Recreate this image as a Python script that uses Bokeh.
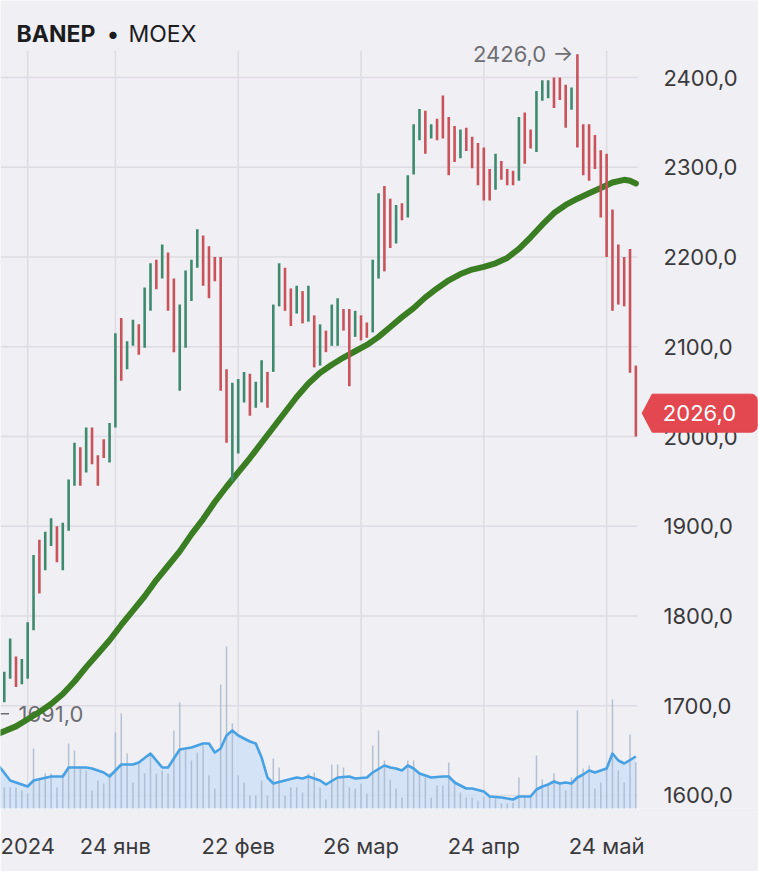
import numpy as np
from bokeh.plotting import figure
from bokeh.models import Range1d, FixedTicker
from bokeh.core.properties import value
from bokeh.embed import file_html
from bokeh.resources import INLINE

# ---------------- data ----------------
ticker_name = "BANEP"
exchange_name = "MOEX"

candle_idx = list(range(-5, 105))  # trading-day index, 0 = 3 Jan 2024
highs = [1747, 1738, 1775, 1755, 1752, 1793, 1868, 1885, 1894, 1909,
         1900, 1904, 1952, 1993, 1988, 2010, 2010, 1979, 1997, 2015,
         2115, 2132, 2106, 2130, 2125, 2166, 2193, 2197, 2214, 2205,
         2176, 2147, 2185, 2197, 2231, 2224, 2212, 2200, 2200, 2075,
         2060, 2064, 2072, 2070, 2061, 2085, 2072, 2147, 2193, 2188,
         2165, 2168, 2162, 2168, 2135, 2125, 2118, 2147, 2154, 2142,
         2142, 2140, 2135, 2127, 2197, 2271, 2279, 2265, 2258, 2260,
         2291, 2348, 2365, 2363, 2348, 2354, 2380, 2356, 2346, 2342,
         2344, 2334, 2327, 2322, 2298, 2315, 2307, 2298, 2296, 2356,
         2361, 2342, 2385, 2397, 2397, 2400, 2400, 2392, 2389, 2426,
         2348, 2348, 2336, 2319, 2315, 2253, 2214, 2200, 2209, 2079]
lows = [1715, 1704, 1730, 1721, 1724, 1730, 1784, 1825, 1851, 1878,
        1860, 1851, 1895, 1945, 1945, 1960, 1969, 1945, 1976, 1971,
        2010, 2062, 2075, 2101, 2091, 2099, 2140, 2164, 2176, 2140,
        2094, 2051, 2099, 2151, 2188, 2168, 2154, 2173, 2051, 1993,
        1950, 1981, 2038, 2023, 2032, 2038, 2032, 2072, 2145, 2140,
        2123, 2137, 2126, 2128, 2077, 2079, 2094, 2101, 2101, 2118,
        2056, 2111, 2107, 2110, 2116, 2176, 2184, 2210, 2215, 2241,
        2244, 2292, 2330, 2315, 2332, 2330, 2332, 2291, 2306, 2310,
        2318, 2299, 2280, 2263, 2263, 2275, 2286, 2280, 2280, 2285,
        2304, 2321, 2317, 2374, 2377, 2366, 2375, 2344, 2364, 2322,
        2291, 2285, 2298, 2244, 2200, 2140, 2147, 2145, 2071, 2000]
direction = [-1, 1, 1, -1, 1, 1, 1, -1, 1, 1,
             -1, 1, 1, 1, -1, 1, -1, -1, -1, 1,
             1, -1, 1, 1, -1, 1, 1, -1, 1, -1,
             -1, 1, 1, 1, 1, -1, -1, -1, -1, -1,
             1, 1, 1, -1, 1, 1, -1, 1, 1, -1,
             -1, 1, -1, 1, -1, 1, -1, 1, 1, -1,
             -1, 1, -1, -1, 1, 1, -1, -1, 1, -1,
             1, 1, 1, -1, 1, -1, -1, -1, -1, 1,
             -1, -1, -1, -1, -1, 1, -1, -1, -1, 1,
             -1, -1, 1, 1, 1, -1, -1, -1, 1, -1,
             -1, -1, -1, -1, -1, -1, -1, -1, -1, -1]
volume = [20, 21, 21, 21, 18, 15, 60, 30, 35, 35,
          21, 35, 65, 58, 40, 38, 18, 28, 25, 35,
          76, 95, 55, 26, 46, 35, 53, 35, 38, 35,
          78, 106, 58, 48, 56, 63, 33, 20, 124, 162,
          85, 33, 26, 13, 13, 28, 13, 50, 41, 13,
          21, 21, 16, 35, 36, 21, 9, 44, 44, 41,
          21, 20, 25, 15, 63, 78, 48, 29, 20, 11,
          48, 48, 36, 31, 11, 23, 23, 46, 28, 16,
          11, 11, 8, 12, 13, 10, 5, 5, 6, 31,
          11, 11, 53, 29, 25, 35, 25, 18, 31, 98,
          40, 43, 20, 26, 40, 109, 38, 26, 74, 46]

ma_idx = [-5, -2, 0, 2, 4, 6, 8, 10, 12, 14, 16, 18, 20, 22, 24, 26, 28, 30,
          32, 34, 36, 38, 40, 42, 44, 46, 48, 50, 52, 54, 56, 58, 60, 62, 64,
          66, 68, 70, 72, 74, 76, 78, 80, 82, 84, 86, 88, 90, 92, 94, 96, 98,
          100, 102, 103, 104]
ma_val = [1669, 1677, 1685, 1693, 1702, 1713, 1727, 1743, 1758, 1773, 1790,
          1806, 1822, 1840, 1856, 1872, 1891, 1908, 1927, 1944, 1960, 1976,
          1993, 2010, 2027, 2044, 2059, 2071, 2080, 2088, 2095, 2102, 2111,
          2122, 2133, 2143, 2155, 2165, 2174, 2181, 2186, 2189, 2193, 2199,
          2209, 2222, 2236, 2249, 2258, 2265, 2271, 2277, 2283, 2286, 2285, 2282]

vol_ma_idx = [-5, -3, 0, 1, 4, 6, 7, 10, 11, 13, 14, 16, 18, 19, 21, 23, 24,
              26, 28, 30, 31, 32, 33, 34, 35, 36, 38, 39, 40, 41, 42, 44, 46,
              47, 48, 50, 51, 53, 55, 56, 58, 59, 61, 62, 63, 64, 65, 66, 67,
              69, 71, 72, 73, 75, 76, 78, 79, 81, 83, 84, 86, 87, 88, 89, 90,
              91, 92, 93, 94, 95, 96, 97, 99, 100, 101, 102, 104]
vol_ma_val = [43, 28, 22, 28, 32, 32, 41, 41, 40, 36, 32, 44, 44, 46, 55, 41, 41,
              59, 61, 65, 65, 56, 60, 73, 78, 73, 67, 65, 51, 31, 25, 28, 31,
              30, 32, 28, 24, 31, 32, 30, 31, 36, 43, 41, 40, 38, 43, 40, 35,
              31, 32, 32, 26, 20, 20, 17, 12, 11, 9, 12, 12, 19, 22, 24, 27,
              25, 26, 25, 31, 34, 38, 36, 40, 55, 48, 45, 52]

date_tick_idx = [0, 15, 36, 57, 78, 99]
date_tick_labels = ["2024", "24 янв", "22 фев", "26 мар", "24 апр", "24 май"]
price_ticks = [1600, 1700, 1800, 1900, 2000, 2100, 2200, 2300, 2400]
last_close = 2026.0
period_low = 1691.0  # low of the period, off-screen to the left


def fmt(v):
    return f"{v:.1f}".replace(".", ",")


# ---------------- layout / styling ----------------
W, H = 758, 871
BOTTOM = 63                   # room for the date labels
FRAME_H = H - BOTTOM          # frame = whole width, top of canvas to 808 px
CHART_RIGHT_PX = 637          # where the price area ends (labels to its right)
CHART_TOP_PX = 50             # where the price area starts
BG = "#F0EFF4"
GRID = "#DDDCE2"
UP = "#3E8A6E"
DOWN = "#C8535B"
MA_COLOR = "#3A7D22"
VOL_BAR = "#A9B8CD"
VOL_FILL = "#CFE1F6"
VOL_LINE = "#47A1E3"
TAG_RED = "#E3474F"
LABEL_GREY = "#6E6E73"
FONT = "Inter"

x0, x_chart_end = -4.65, 104.28
px_x = CHART_RIGHT_PX / (x_chart_end - x0)
x1 = x0 + W / px_x
y_bottom, y_chart_top = 1585.5, 2430.1
px_y = (FRAME_H - CHART_TOP_PX) / (y_chart_top - y_bottom)
y_top = y_chart_top + CHART_TOP_PX / px_y

p = figure(width=W, height=H, x_range=Range1d(x0, x1),
           y_range=Range1d(y_bottom, y_top),
           output_backend="svg", toolbar_location=None, y_axis_location=None,
           min_border_left=0, min_border_right=0, min_border_top=0,
           min_border_bottom=BOTTOM,
           background_fill_color=BG, border_fill_color=BG, outline_line_color=None)
p.extra_y_ranges = {"vol": Range1d(0, FRAME_H)}
p.xgrid.visible = False
p.ygrid.visible = False

# date axis (bottom)
xa = p.xaxis[0]
xa.ticker = FixedTicker(ticks=date_tick_idx)
xa.major_label_overrides = {t: lab for t, lab in zip(date_tick_idx, date_tick_labels)}
xa.axis_line_color = None
xa.major_tick_line_color = None
xa.minor_tick_line_color = None
xa.major_tick_out = 0
xa.major_tick_in = 0
xa.major_label_standoff = 24
xa.major_label_text_font = FONT
xa.major_label_text_font_size = "22px"
xa.major_label_text_color = "#3A3A3C"

# grid (limited to the price/volume area)
p.segment(x0=date_tick_idx, x1=date_tick_idx,
          y0=[y_bottom] * len(date_tick_idx), y1=[y_chart_top] * len(date_tick_idx),
          line_color=GRID, line_width=1.5)
p.segment(x0=[x0] * len(price_ticks), x1=[x_chart_end] * len(price_ticks),
          y0=price_ticks, y1=price_ticks, line_color=GRID, line_width=1.5)

# volume
p.varea(x=vol_ma_idx, y1=[0] * len(vol_ma_idx), y2=vol_ma_val, y_range_name="vol",
        fill_color=VOL_FILL, fill_alpha=0.85)
p.segment(x0=candle_idx, y0=[0] * len(candle_idx), x1=candle_idx, y1=volume,
          y_range_name="vol", line_color=VOL_BAR, line_width=1.5, line_alpha=0.85)
p.line(vol_ma_idx, vol_ma_val, y_range_name="vol", line_color=VOL_LINE,
       line_width=2.6, line_join="round")

# period-low label (under the average line); the arrow pointing left is cut
# by the edge, so only its shaft shows
p.text(x=[x0], y=[period_low], text=[fmt(period_low)],
       x_offset=18, text_align="left", text_baseline="middle",
       text_font=value(FONT), text_font_size="22px", text_color=LABEL_GREY)
p.segment(x0=[x0], x1=[x0 + 8.5 / px_x], y0=[period_low], y1=[period_low],
          line_color=LABEL_GREY, line_width=1.6)

# moving average
p.line(ma_idx, ma_val, line_color=MA_COLOR, line_width=6, line_join="round",
       line_cap="round")

# candles
colors = [UP if d > 0 else DOWN for d in direction]
p.segment(x0=candle_idx, y0=lows, x1=candle_idx, y1=highs, line_color=colors,
          line_width=2.6)

# price labels on the right
p.text(x=[x_chart_end] * len(price_ticks), y=price_ticks,
       text=[fmt(t) for t in price_ticks], x_offset=26, text_align="left",
       text_baseline="middle", text_font=value(FONT), text_font_size="22px",
       text_color="#3A3A3C")

# max label
imax = int(np.argmax(highs))
p.text(x=[candle_idx[imax]], y=[highs[imax]], text=[fmt(highs[imax]) + " →"],
       x_offset=-4, text_align="right", text_baseline="middle",
       text_font=value(FONT), text_font_size="22px", text_color=LABEL_GREY)

# last price tag
r = 6.0
pts = [(4.7, 0.0), (14.7, 19.0)]
for a in np.radians(np.linspace(90, 0, 7)):
    pts.append((119.7 - r + r * np.cos(a), 19.0 - r + r * np.sin(a)))
for a in np.radians(np.linspace(0, -90, 7)):
    pts.append((119.7 - r + r * np.cos(a), -19.0 + r + r * np.sin(a)))
pts.append((14.7, -19.0))
tag_x = [x_chart_end + dx / px_x for dx, dy in pts]
tag_y = [last_close + dy / px_y for dx, dy in pts]
p.patch(tag_x, tag_y, fill_color=TAG_RED, line_color=TAG_RED, line_width=1)
p.text(x=[x_chart_end], y=[last_close], text=[fmt(last_close)], x_offset=62,
       text_align="center", text_baseline="middle", text_font=value(FONT),
       text_font_size="22px", text_color="white")

# title
ty = y_top - 33.3 / px_y
p.text(x=[x0], y=[ty], text=[ticker_name], x_offset=16, text_font=value(FONT),
       text_font_style="bold", text_font_size="23px", text_color="#1C1C1E",
       text_baseline="alphabetic")
p.text(x=[x0], y=[ty], text=["•"], x_offset=106, text_font=value(FONT),
       text_font_size="23px", text_color="#1C1C1E", text_baseline="alphabetic")
p.text(x=[x0], y=[ty], text=[exchange_name], x_offset=128, text_font=value(FONT),
       text_font_size="23px", text_color="#1C1C1E", text_baseline="alphabetic")

open("out.html", "w").write(file_html(p, INLINE))
